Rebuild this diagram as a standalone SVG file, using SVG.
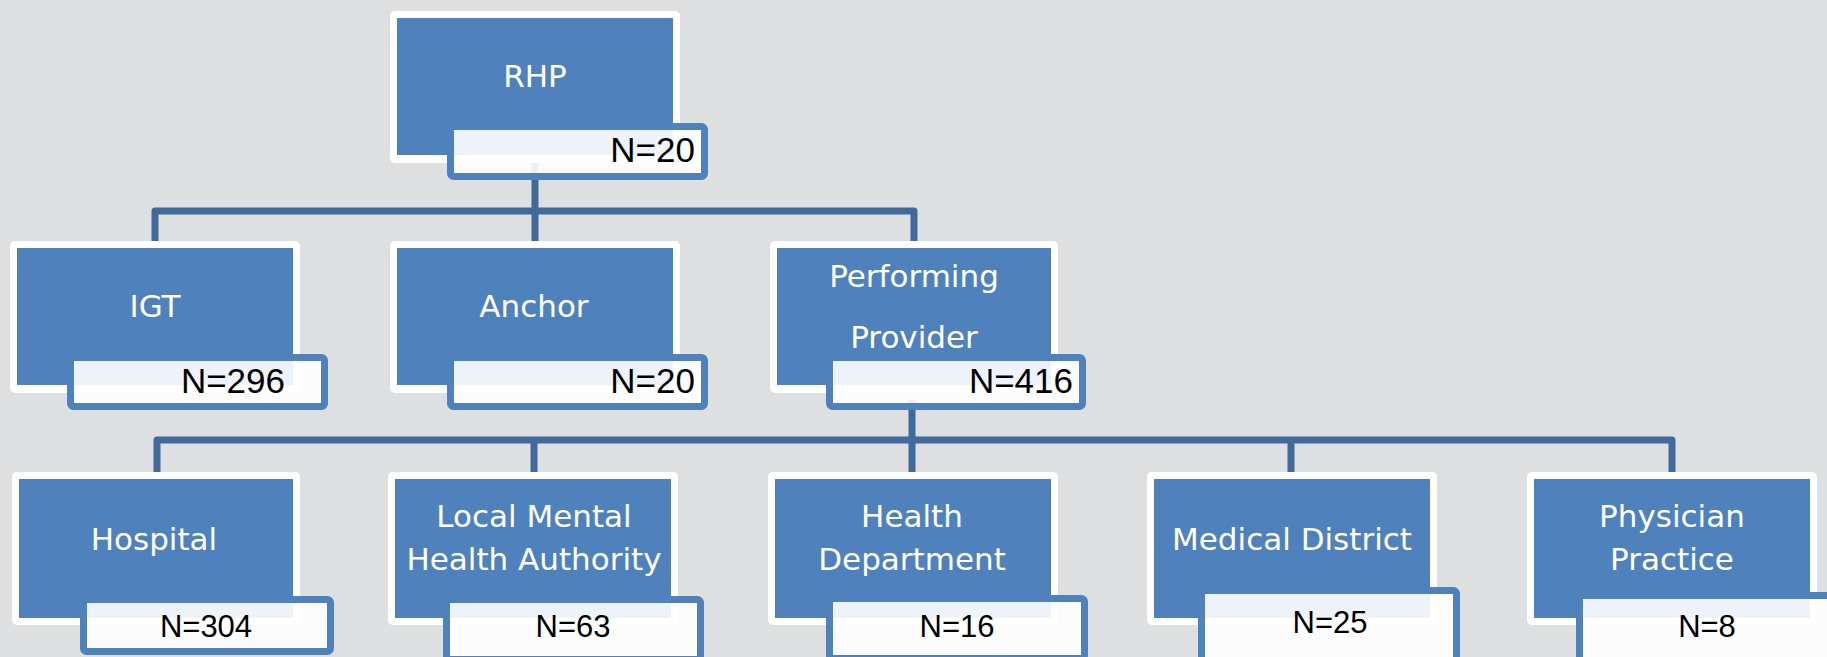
<svg xmlns="http://www.w3.org/2000/svg" width="1827" height="657" viewBox="0 0 1827 657">
<style>
.frame{fill:#ffffff}
.box{fill:#4f81bd}
.lbl{fill:#ffffff;fill-opacity:0.9;stroke:#4f81bd;stroke-width:7}
.t{font-family:"DejaVu Sans",sans-serif;font-size:31px;fill:#ffffff;text-anchor:middle}
.n{font-family:"Liberation Sans",Arial,sans-serif;font-size:35px;fill:#000000}
.nb{font-family:"Liberation Sans",Arial,sans-serif;font-size:31px;fill:#000000;text-anchor:middle}
.c{fill:none;stroke:#41699c;stroke-width:7;stroke-linejoin:round}
</style>
<rect x="0" y="0" width="1827" height="657" fill="#dedfe1"/>
<g id="connectors">
<path class="c" d="M535 160 V211 M155 241 V211 H914 V241 M535 211 V241"/>
<path class="c" d="M912 400 V440 M157 472 V440 H1672 V472 M534 440 V472 M912 440 V472 M1291 440 V472"/>
</g>
<g id="rhp">
<rect class="frame" x="390" y="11" width="290" height="152" rx="5"/>
<rect class="box" x="397" y="18" width="276" height="137"/>
<text class="t" x="535" y="87">RHP</text>
<rect class="lbl" x="450.5" y="126.5" width="254" height="50" rx="3"/>
<text class="n" x="695" y="162" text-anchor="end">N=20</text>
</g>
<g id="igt">
<rect class="frame" x="10" y="241" width="290" height="152" rx="5"/>
<rect class="box" x="17" y="248" width="276" height="137"/>
<text class="t" x="155" y="317">IGT</text>
<rect class="lbl" x="70.5" y="357.5" width="254" height="49" rx="3"/>
<text class="n" x="285" y="393" text-anchor="end">N=296</text>
</g>
<g id="anchor">
<rect class="frame" x="390" y="241" width="290" height="152" rx="5"/>
<rect class="box" x="397" y="248" width="276" height="137"/>
<text class="t" x="534" y="317">Anchor</text>
<rect class="lbl" x="450.5" y="357.5" width="254" height="49" rx="3"/>
<text class="n" x="695" y="393" text-anchor="end">N=20</text>
</g>
<g id="performing">
<rect class="frame" x="770" y="241" width="288" height="152" rx="5"/>
<rect class="box" x="777" y="248" width="274" height="137"/>
<text class="t" x="914" y="287">Performing</text>
<text class="t" x="914" y="348">Provider</text>
<rect class="lbl" x="829.5" y="357.5" width="253" height="49" rx="3"/>
<text class="n" x="1073" y="393" text-anchor="end">N=416</text>
</g>
<g id="hospital">
<rect class="frame" x="12" y="472" width="288" height="153" rx="5"/>
<rect class="box" x="19" y="479" width="274" height="139"/>
<text class="t" x="154" y="550">Hospital</text>
<rect class="lbl" x="83.5" y="599.5" width="247" height="52" rx="3"/>
<text class="nb" x="206" y="637">N=304</text>
</g>
<g id="lmha">
<rect class="frame" x="388" y="472" width="290" height="153" rx="5"/>
<rect class="box" x="395" y="479" width="276" height="139"/>
<text class="t" x="534" y="527">Local Mental</text>
<text class="t" x="534" y="570">Health Authority</text>
<rect class="lbl" x="446.5" y="599.5" width="254" height="60" rx="3"/>
<text class="nb" x="573" y="637">N=63</text>
</g>
<g id="health-dept">
<rect class="frame" x="768" y="472" width="290" height="153" rx="5"/>
<rect class="box" x="775" y="479" width="276" height="139"/>
<text class="t" x="912" y="527">Health</text>
<text class="t" x="912" y="570">Department</text>
<rect class="lbl" x="829.5" y="598.5" width="255" height="60" rx="3"/>
<text class="nb" x="957" y="637">N=16</text>
</g>
<g id="medical-district">
<rect class="frame" x="1147" y="472" width="290" height="153" rx="5"/>
<rect class="box" x="1154" y="479" width="276" height="139"/>
<text class="t" x="1292" y="550">Medical District</text>
<rect class="lbl" x="1201.5" y="590.5" width="255" height="70" rx="3"/>
<text class="nb" x="1330" y="633">N=25</text>
</g>
<g id="physician">
<rect class="frame" x="1527" y="472" width="290" height="153" rx="5"/>
<rect class="box" x="1534" y="479" width="276" height="139"/>
<text class="t" x="1672" y="527">Physician</text>
<text class="t" x="1672" y="570">Practice</text>
<rect class="lbl" x="1579.5" y="595.5" width="260" height="70" rx="3"/>
<text class="nb" x="1707" y="637">N=8</text>
</g>
</svg>
